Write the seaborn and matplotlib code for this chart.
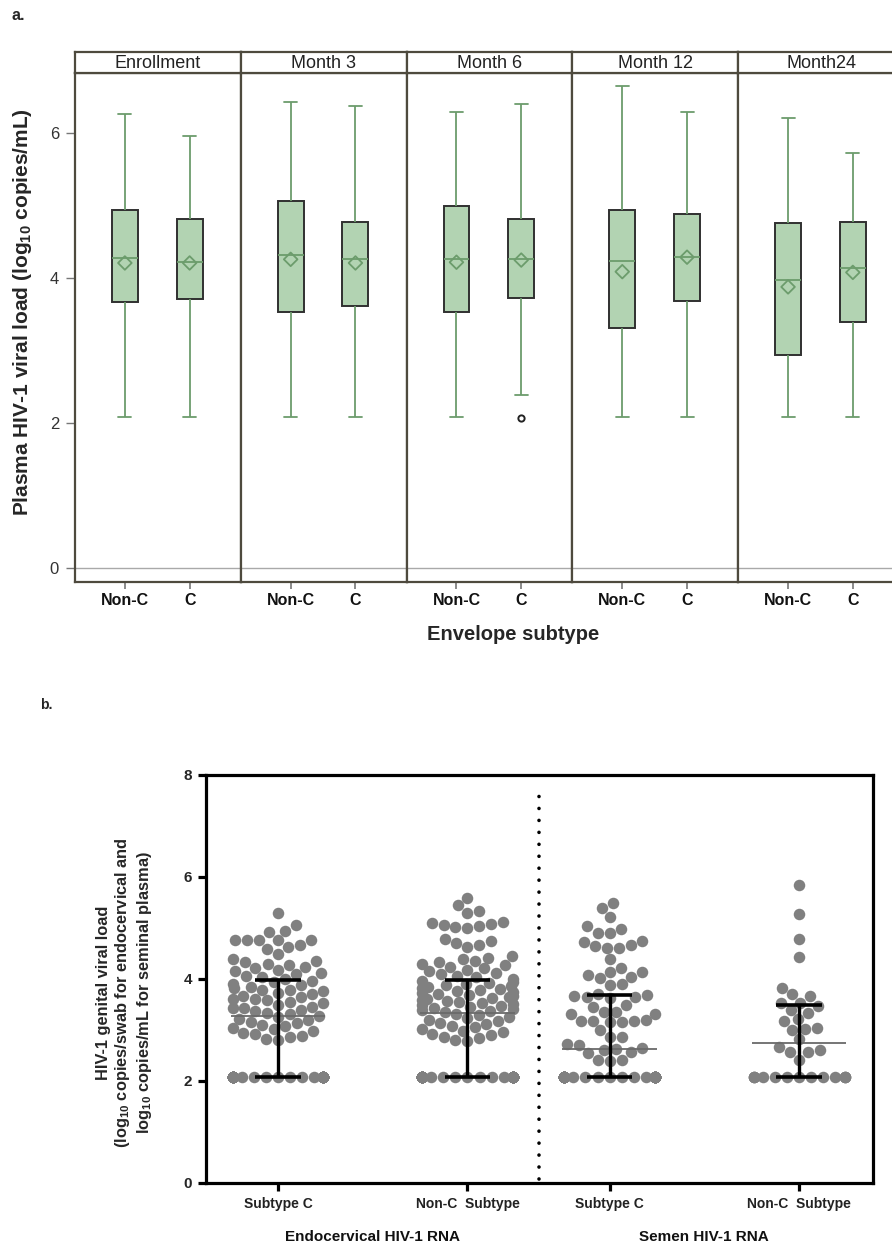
import numpy as np
import pandas as pd
import matplotlib
matplotlib.use("Agg")
import matplotlib.pyplot as plt
import seaborn as sns

# %% Panel a: box summaries (log10 copies/mL)
visits = ["Enrollment", "Month 3", "Month 6", "Month 12", "Month24"]
subtypes = ["Non-C", "C"]

nonc_low = [2.08, 2.08, 2.08, 2.08, 2.08]
nonc_q1 = [3.67, 3.54, 3.54, 3.32, 2.94]
nonc_med = [4.28, 4.32, 4.26, 4.24, 3.98]
nonc_q3 = [4.94, 5.06, 4.99, 4.94, 4.76]
nonc_high = [6.26, 6.43, 6.29, 6.65, 6.21]
nonc_mean = [4.21, 4.26, 4.22, 4.09, 3.88]
nonc_outlier = [np.nan, np.nan, np.nan, np.nan, np.nan]

c_low = [2.08, 2.08, 2.39, 2.08, 2.08]
c_q1 = [3.71, 3.61, 3.73, 3.68, 3.40]
c_med = [4.22, 4.26, 4.26, 4.29, 4.14]
c_q3 = [4.82, 4.78, 4.82, 4.89, 4.77]
c_high = [5.96, 6.37, 6.40, 6.29, 5.72]
c_mean = [4.21, 4.21, 4.25, 4.29, 4.08]
c_outlier = [np.nan, np.nan, 2.07, np.nan, np.nan]

# %% Panel b: genital viral load, one value per dot above the detection limit
group_labels = ["Subtype C", "Non-C  Subtype", "Subtype C", "Non-C  Subtype"]
sample_labels = ["Endocervical HIV-1 RNA", "Semen HIV-1 RNA"]
lod = 2.08  # values below detection plotted here

endo_c_lod = 38
endo_c = [2.80, 2.83, 2.86, 2.89, 2.92, 2.95, 2.98, 3.01, 3.04, 3.07,
          3.10, 3.13, 3.16, 3.19, 3.22, 3.25,
          3.28, 3.31, 3.34, 3.37, 3.40, 3.43, 3.43, 3.46, 3.49, 3.52,
          3.55, 3.58, 3.61, 3.61, 3.64, 3.67, 3.70, 3.73, 3.76, 3.79,
          3.79, 3.82, 3.85, 3.88, 3.91, 3.94, 3.97,
          4.00, 4.03, 4.06, 4.09, 4.12, 4.15, 4.18, 4.21, 4.24, 4.27,
          4.30, 4.33, 4.36, 4.39,
          4.50, 4.58, 4.62, 4.66, 4.76, 4.76, 4.76, 4.76, 4.76, 4.92,
          4.94, 5.06, 5.29]

endo_nonc_lod = 45
endo_nonc = [2.78, 2.81, 2.84, 2.87, 2.90, 2.93, 2.96, 2.99, 3.02, 3.05,
             3.08, 3.11, 3.14, 3.17, 3.20, 3.23, 3.26, 3.29, 3.32,
             3.35, 3.37, 3.39, 3.41, 3.43, 3.45, 3.47, 3.49, 3.51, 3.53,
             3.55, 3.57, 3.59, 3.61, 3.63, 3.65, 3.67, 3.69, 3.71, 3.73,
             3.75, 3.77, 3.79, 3.81, 3.83, 3.85, 3.87, 3.89, 3.91, 3.93,
             3.95, 3.97,
             4.00, 4.03, 4.06, 4.09, 4.12, 4.15, 4.18, 4.21, 4.24, 4.27,
             4.30, 4.33, 4.36, 4.39, 4.42, 4.45,
             4.62, 4.66, 4.70, 4.74, 4.78, 5.00, 5.02, 5.04, 5.06, 5.08,
             5.10, 5.12, 5.30, 5.33, 5.45, 5.59]

semen_c_lod = 39
semen_c = [2.40, 2.41, 2.42, 2.55, 2.57, 2.60, 2.62, 2.64, 2.71, 2.73,
           2.86, 2.86, 3.00, 3.16, 3.16, 3.18, 3.18, 3.18, 3.20, 3.31,
           3.31, 3.36, 3.36, 3.46, 3.50, 3.62, 3.65, 3.65, 3.66, 3.68,
           3.70, 3.88, 3.90, 4.01, 4.04, 4.08, 4.13, 4.14, 4.21, 4.39,
           4.61, 4.61, 4.65, 4.67, 4.73, 4.75, 4.91, 4.91, 4.98, 5.03,
           5.22, 5.40, 5.50]

semen_nonc_lod = 13
semen_nonc = [2.41, 2.56, 2.57, 2.60, 2.67, 2.82, 3.00, 3.02, 3.03, 3.18,
              3.21, 3.33, 3.39, 3.47, 3.53, 3.53, 3.66, 3.70, 3.82, 4.44,
              4.78, 5.27, 5.84]

# %% Styling
sns.set_theme(style="white")
plt.rcParams["font.family"] = ["Liberation Sans", "DejaVu Sans"]
plt.rcParams["mathtext.fontset"] = "custom"
plt.rcParams["mathtext.rm"] = "Liberation Sans"
plt.rcParams["mathtext.bf"] = "Liberation Sans:bold"

W, H = 892, 1250
fig = plt.figure(figsize=(W / 100, H / 100), dpi=100)


def px_box(x0, y0, x1, y1):
    # pixel box (top-left origin) -> figure fraction rect
    return [x0 / W, 1 - y1 / H, (x1 - x0) / W, (y1 - y0) / H]


frame_col = "#4e4a3e"
box_fill = "#b2d3b2"
green = "#6c9c6c"

# %% Panel a
summary = pd.DataFrame({
    "visit": visits * 2,
    "subtype": ["Non-C"] * len(visits) + ["C"] * len(visits),
    "low": nonc_low + c_low,
    "q1": nonc_q1 + c_q1,
    "med": nonc_med + c_med,
    "q3": nonc_q3 + c_q3,
    "high": nonc_high + c_high,
    "mean": nonc_mean + c_mean,
    "outlier": nonc_outlier + c_outlier,
})

# nine values per box reproduce the five-number summary (and the outlier)
rows = []
for _, r in summary.iterrows():
    first = r["low"] if np.isnan(r["outlier"]) else r["outlier"]
    for v in [first, r["low"], r["q1"], r["q1"], r["med"], r["q3"], r["q3"], r["high"], r["high"]]:
        rows.append({"visit": r["visit"], "subtype": r["subtype"], "value": v})
box_df = pd.DataFrame(rows)

facet_w = 165.8
for i, visit in enumerate(visits):
    x0 = 75 + i * facet_w
    ax = fig.add_axes(px_box(x0, 73, x0 + facet_w, 582))
    sub = box_df[box_df["visit"] == visit]
    sns.boxplot(data=sub, x="subtype", y="value", order=subtypes, width=0.4,
                color=box_fill, saturation=1, linecolor="#303030", linewidth=1.4,
                whis=1.5, ax=ax,
                whiskerprops={"color": green, "linewidth": 1.3},
                capprops={"color": green, "linewidth": 1.3},
                medianprops={"color": green, "linewidth": 1.3},
                flierprops={"marker": "o", "markersize": 4.5, "markerfacecolor": "none",
                            "markeredgecolor": "#222222", "markeredgewidth": 1.4})
    means = summary[summary["visit"] == visit].set_index("subtype").loc[subtypes, "mean"]
    ax.scatter(range(len(subtypes)), means.values, marker="D", s=48, facecolors="none",
               edgecolors=green, linewidths=1.3, zorder=5)
    ax.axhline(0, color="#a9a9a9", lw=1, zorder=0)
    ax.set_xlim(-0.77, 1.79)
    ax.set_ylim(-0.19, 6.83)
    ax.set_xlabel("")
    ax.set_ylabel("")
    ax.set_yticks([0, 2, 4, 6])
    ax.set_xticks(range(len(subtypes)))
    ax.set_xticklabels(subtypes, fontweight="bold", fontsize=11.5, color="#111111")
    ax.tick_params(axis="x", bottom=True, length=5, width=1.2, color="#777777", pad=3)
    if i == 0:
        ax.tick_params(axis="y", left=True, length=6.5, width=1, color="#777777",
                       labelsize=12, labelcolor="#333333", pad=5)
    else:
        ax.tick_params(axis="y", left=False, labelleft=False)
    for sp in ax.spines.values():
        sp.set_color(frame_col)
        sp.set_linewidth(1.6)

    strip = fig.add_axes(px_box(x0, 52, x0 + facet_w, 73))
    strip.set_xticks([])
    strip.set_yticks([])
    for sp in strip.spines.values():
        sp.set_color(frame_col)
        sp.set_linewidth(1.6)
    strip.text(0.5, 0.45, visit, ha="center", va="center", fontsize=13, color="#222222",
               transform=strip.transAxes)

fig.text(23 / W, 1 - 312 / H, r"Plasma HIV-1 viral load (log$_{\mathbf{10}}$ copies/mL)",
         rotation=90, ha="center", va="center", fontsize=15, fontweight="bold")
fig.text(513 / W, 1 - 635 / H, "Envelope subtype", ha="center", va="center",
         fontsize=14.5, fontweight="bold")
fig.text(12 / W, 1 - 16 / H, "a.", ha="left", va="center", fontsize=11.5, fontweight="bold")

# %% Panel b
group_pos = [0, 1, 1.75, 2.75]
group_lod = [endo_c_lod, endo_nonc_lod, semen_c_lod, semen_nonc_lod]
group_detect = [endo_c, endo_nonc, semen_c, semen_nonc]

swarm_df = pd.concat([
    pd.DataFrame({"pos": p, "value": np.concatenate([np.full(n, lod), vals])})
    for p, n, vals in zip(group_pos, group_lod, group_detect)
], ignore_index=True)

# swarmplot sizes its swarms from the closest spacing of x values; an empty
# (NaN) row off to the right narrows that spacing so the swarms are ~0.48 wide
swarm_width = 0.48
spacer = pd.DataFrame({"pos": [group_pos[-1] + swarm_width / 0.8], "value": [np.nan]})
swarm_plot_df = pd.concat([swarm_df, spacer], ignore_index=True)

ax2 = fig.add_axes(px_box(206, 775, 873, 1183))
sns.swarmplot(data=swarm_plot_df, x="pos", y="value", native_scale=True, orient="x",
              size=8.3, color="#808080", ax=ax2, zorder=2, warn_thresh=1)

stats = swarm_df.groupby("pos")["value"].quantile([0.25, 0.5, 0.75]).unstack()
for p in group_pos:
    q1, med, q3 = stats.loc[p, 0.25], stats.loc[p, 0.5], stats.loc[p, 0.75]
    ax2.hlines(med, p - 0.25, p + 0.25, color="#6a6a6a", lw=1.3, zorder=3)
    ax2.vlines(p, q1, q3, color="black", lw=2.4, zorder=4)
    ax2.hlines([q1, q3], p - 0.12, p + 0.12, color="black", lw=2.6, zorder=4)

sep = (group_pos[1] + group_pos[2]) / 2
ax2.axvline(sep, ymin=0.01, ymax=0.97, color="black", lw=2.6,
            linestyle=(0, (0.01, 3.3)), dash_capstyle="round", zorder=1)

ax2.set_xlim(-0.38, 3.14)
ax2.set_ylim(0, 8)
ax2.set_xlabel("")
ax2.set_ylabel("")
ax2.set_yticks([0, 2, 4, 6, 8])
ax2.set_yticklabels([0, 2, 4, 6, 8], fontweight="bold", fontsize=11)
ax2.set_xticks(group_pos)
ax2.set_xticklabels(group_labels, fontweight="bold", fontsize=10, color="#222222")
ax2.tick_params(axis="both", bottom=True, left=True, length=6, width=2.3, color="black", pad=4)
for sp in ax2.spines.values():
    sp.set_color("black")
    sp.set_linewidth(2.3)

for k, label in enumerate(sample_labels):
    xc = (group_pos[2 * k] + group_pos[2 * k + 1]) / 2
    ax2.text(xc, -0.132, label, transform=ax2.get_xaxis_transform(), ha="center",
             va="center", fontsize=11, fontweight="bold", color="#111111")

fig.text(125 / W, 1 - 993 / H,
         "HIV-1 genital viral load\n"
         r"(log$_{\mathbf{10}}$ copies/swab for endocervical and" "\n"
         r"log$_{\mathbf{10}}$ copies/mL for seminal plasma)",
         rotation=90, ha="center", va="center", multialignment="center",
         fontsize=11.8, fontweight="bold", linespacing=1.15)
fig.text(40 / W, 1 - 705 / H, "b.", ha="left", va="center", fontsize=10, fontweight="bold")

fig.savefig("out.png", dpi=100)
